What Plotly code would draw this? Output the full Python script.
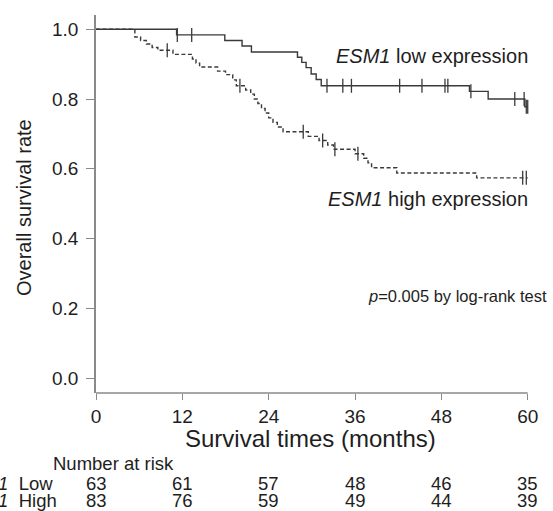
import numpy as np
import plotly.graph_objects as go

# ---- data ----
low_step_t = [0, 11.2, 17.9, 20.3, 21.6, 28.0, 28.6, 29.2, 29.9, 30.6, 31.3, 51.9, 54.5, 59.6]
low_step_s = [1.0, 0.984, 0.968, 0.952, 0.935, 0.920, 0.905, 0.890, 0.872, 0.856, 0.838, 0.822, 0.800, 0.778]
low_cens_t = [11.3, 13.3, 32.1, 34.3, 35.5, 42.2, 45.3, 48.5, 48.9, 52.1, 58.2, 59.5, 59.8, 60.0]

high_step_t = [0, 5.4, 6.2, 7.0, 7.8, 8.6, 10.7, 13.4, 13.9, 14.4, 16.9, 18.0, 19.0, 19.5,
               20.8, 21.5, 22.0, 22.5, 23.0, 23.5, 24.0, 24.6, 25.2, 26.0, 29.5, 31.0,
               32.2, 33.0, 36.0, 37.2, 37.8, 38.3, 41.8, 52.9]
high_step_s = [1.0, 0.978, 0.968, 0.958, 0.948, 0.940, 0.928, 0.915, 0.903, 0.892, 0.880, 0.870, 0.855, 0.838,
               0.826, 0.814, 0.800, 0.787, 0.773, 0.760, 0.746, 0.733, 0.720, 0.706, 0.693, 0.681,
               0.668, 0.656, 0.643, 0.630, 0.617, 0.603, 0.588, 0.574]
high_cens_t = [9.9, 20.0, 28.8, 31.5, 33.2, 36.4, 59.3, 59.8]

x_ticks = [0, 12, 24, 36, 48, 60]
y_ticks = [0.0, 0.2, 0.4, 0.6, 0.8, 1.0]
y_ticktext = ["0.0", "0.2", "0.4", "0.6", "0.8", "1.0"]
risk_low = [63, 61, 57, 48, 46, 35]
risk_high = [83, 76, 59, 49, 44, 39]

END_T = 60.0
W, H = 553, 511
ML, MR, MT, MB = 96, 8, 15, 118
PW, PH = W - ML - MR, H - MT - MB
FONT = "Liberation Sans, Arial, sans-serif"
CURVE = "#3a3a3a"
AXC = "#8a8a8a"
TXT = "#1e1e1e"


def px(xp):
    return (xp - ML) / PW


def py(yp):
    return (H - MB - yp) / PH


def step_at(ts, ss, t):
    i = np.searchsorted(np.array(ts), t, side="right") - 1
    return ss[i]


fig = go.Figure()

for ts, ss, cens, dash in [(low_step_t, low_step_s, low_cens_t, "solid"),
                           (high_step_t, high_step_s, high_cens_t, "4px,2.5px")]:
    fig.add_trace(go.Scatter(x=ts + [END_T], y=ss + [ss[-1]], mode="lines",
                             line=dict(shape="hv", color=CURVE, width=1.4, dash=dash),
                             showlegend=False, hoverinfo="skip"))
    fig.add_trace(go.Scatter(x=cens, y=[step_at(ts, ss, c) for c in cens], mode="markers",
                             marker=dict(symbol="line-ns", size=10,
                                         line=dict(color=CURVE, width=1.3)),
                             showlegend=False, hoverinfo="skip"))

fig.update_xaxes(range=[0, 62.4], tickvals=x_ticks, ticks="outside", ticklen=6, tickwidth=1.3,
                 tickcolor=AXC, showline=False, showgrid=False, zeroline=False,
                 tickfont=dict(family=FONT, size=19, color=TXT))
fig.update_yaxes(range=[-0.043, 1.041], tickvals=y_ticks, ticktext=y_ticktext, ticks="outside",
                 ticklen=8, tickwidth=1.3, tickcolor=AXC, showline=True, linecolor=AXC, linewidth=1.5,
                 showgrid=False, zeroline=False, ticklabelstandoff=4,
                 tickfont=dict(family=FONT, size=19, color=TXT))

fig.add_shape(type="line", xref="x", yref="paper", x0=0, x1=60, y0=0, y1=0,
              line=dict(color=AXC, width=1.5))

ann = []


def add_text(text, xp, yp, size, xanchor="center", angle=0):
    ann.append(dict(text=text, x=px(xp), y=py(yp), xref="paper", yref="paper",
                    xanchor=xanchor, yanchor="middle", showarrow=False, textangle=angle,
                    font=dict(family=FONT, size=size, color=TXT)))


add_text("<i>ESM1</i> low expression", 530, 56, 20, xanchor="right")
add_text("<i>ESM1</i> high expression", 530, 199, 20, xanchor="right")
add_text("<i>p</i>=0.005 by log-rank test", 549, 296, 16.5, xanchor="right")
add_text("Survival times (months)", 310, 438, 24)
add_text("Overall survival rate", 24, 208, 20, angle=-90)
add_text("Number at risk", 51, 463, 18.5, xanchor="left")
add_text("<i>ESM1</i>&nbsp; Low", -44, 483, 18.5, xanchor="left")
add_text("<i>ESM1</i>&nbsp; High", -44, 501, 18.5, xanchor="left")
for t, a, b in zip(x_ticks, risk_low, risk_high):
    ann.append(dict(text=str(a), x=t, xref="x", y=py(483), yref="paper", showarrow=False,
                    xanchor="center", yanchor="middle", font=dict(family=FONT, size=18.5, color=TXT)))
    ann.append(dict(text=str(b), x=t, xref="x", y=py(501), yref="paper", showarrow=False,
                    xanchor="center", yanchor="middle", font=dict(family=FONT, size=18.5, color=TXT)))

fig.update_layout(width=W, height=H, margin=dict(l=ML, r=MR, t=MT, b=MB),
                  plot_bgcolor="white", paper_bgcolor="white", annotations=ann,
                  showlegend=False)

fig.write_html("out.html", config={"displayModeBar": False},
               post_script="document.body.style.margin='0';document.body.style.overflow='hidden';")
